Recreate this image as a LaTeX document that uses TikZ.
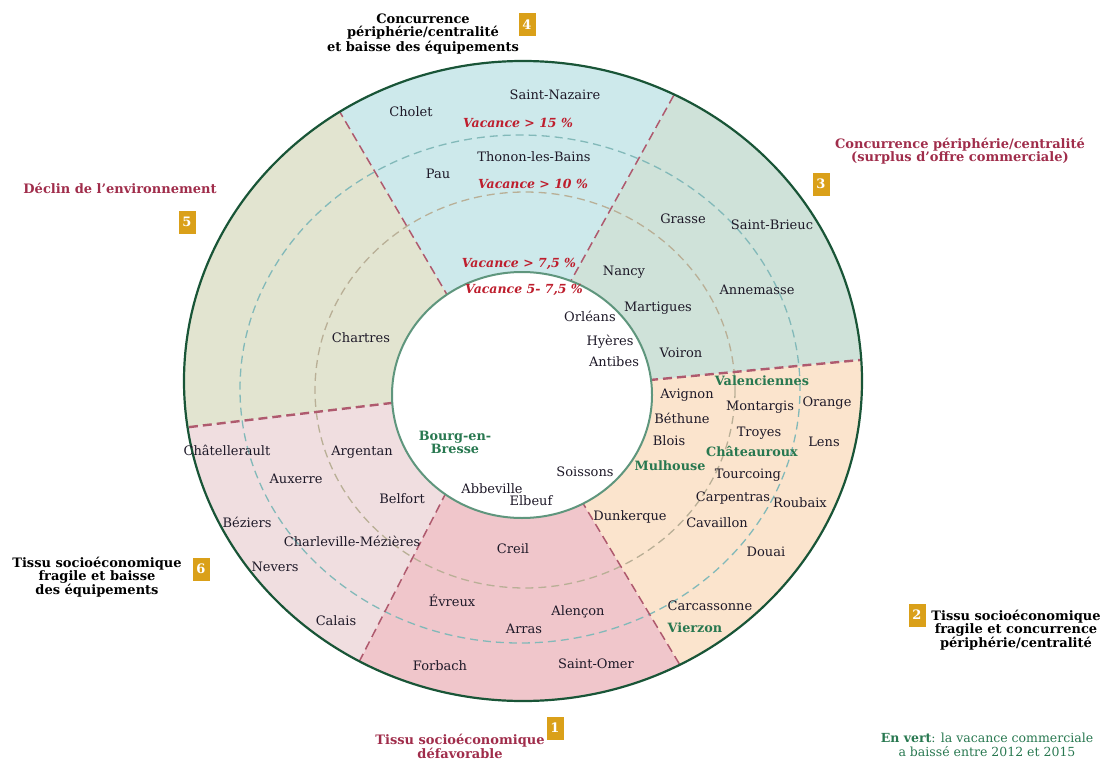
\documentclass[tikz,border=0pt]{standalone}
\usepackage{fontspec}
\setmainfont{DejaVu Serif}
\definecolor{sA}{RGB}{240,198,203}
\definecolor{sB}{RGB}{251,228,205}
\definecolor{sC}{RGB}{207,226,217}
\definecolor{sD}{RGB}{205,233,235}
\definecolor{sE}{RGB}{226,228,208}
\definecolor{sF}{RGB}{240,222,224}
\definecolor{citycol}{RGB}{30,25,40}
\definecolor{grn}{RGB}{40,120,80}
\definecolor{vacred}{RGB}{190,30,45}
\definecolor{rose}{RGB}{160,45,75}
\definecolor{gold}{RGB}{218,160,25}
\definecolor{outercol}{RGB}{25,85,55}
\definecolor{innercol}{RGB}{95,150,125}
\definecolor{beigering}{RGB}{185,175,150}
\definecolor{tealring}{RGB}{130,185,185}
\definecolor{segcol}{RGB}{175,90,110}
\begin{document}
\begin{tikzpicture}[x=1pt,y=-1pt,
  city/.style={font=\fontsize{13}{13.5}\selectfont, text=citycol, inner sep=0pt, text height=9pt, text depth=2.5pt},
  gcity/.style={city, font=\fontsize{12.8}{13}\selectfont\bfseries, text=grn, align=center},
  vac/.style={city, font=\fontsize{12.5}{13}\selectfont\bfseries\itshape, text=vacred},
  head/.style={font=\fontsize{13}{13}\selectfont\bfseries, align=center, inner sep=0pt},
  numbox/.style={fill=gold, text=white, font=\fontsize{13}{13}\selectfont\bfseries, minimum width=17pt, minimum height=23pt, inner sep=0pt},
  seg/.style={draw=segcol, dash pattern=on 9pt off 5pt, line width=1.5pt},
  segthick/.style={seg, line width=2.4pt},
  ringdash/.style={dash pattern=on 8pt off 5pt, line width=1.3pt},
]
\useasboundingbox (0,0) rectangle (1106,760);
\coordinate (C) at (522,395);
\begin{scope}
\clip (523,381) ellipse [x radius=339pt, y radius=320pt];
\fill[sA] (C) -- (468,450) -- (324,730) -- (719,730) -- (551,450) -- cycle;
\fill[sB] (C) -- (551,450) -- (719,730) -- (1000,730) -- (1000,350) -- (965,350) -- (545,390) -- cycle;
\fill[sC] (C) -- (545,390) -- (965,350) -- (965,0) -- (710,0) -- (710,30) -- (529.5,355.5) -- cycle;
\fill[sD] (C) -- (529.5,355.5) -- (710,30) -- (710,0) -- (317,0) -- (317,73) -- (490.5,369) -- cycle;
\fill[sE] (C) -- (490.5,369) -- (317,73) -- (0,73) -- (0,440) -- (81,440) -- (497,390.5) -- cycle;
\fill[sF] (C) -- (497,390.5) -- (81,440) -- (81,730) -- (324,730) -- (468,450) -- cycle;
\draw[ringdash, draw=beigering] (525,390) ellipse [x radius=210pt, y radius=198pt];
\draw[ringdash, draw=tealring] (520,389) ellipse [x radius=280pt, y radius=254pt];
\coordinate (l1a) at (504,380); \coordinate (l1b) at (324,730);
\coordinate (l2a) at (509,380); \coordinate (l2b) at (719,730);
\coordinate (l3a) at (440,400); \coordinate (l3b) at (965,350);
\coordinate (l4a) at (486,434); \coordinate (l4b) at (710,30);
\coordinate (l5a) at (534,443); \coordinate (l5b) at (317,73);
\coordinate (l6a) at (601,378); \coordinate (l6b) at (81,440);
\draw[seg] (l1a) -- (l1b);
\draw[seg] (l2a) -- (l2b);
\draw[segthick] (l3a) -- (l3b);
\draw[seg] (l4a) -- (l4b);
\draw[seg] (l5a) -- (l5b);
\draw[segthick] (l6a) -- (l6b);
\end{scope}
\fill[white] (522,395) ellipse [x radius=130pt, y radius=123pt];
\draw[innercol, line width=2pt] (522,395) ellipse [x radius=130pt, y radius=123pt];
\draw[outercol, line width=2.2pt] (523,381) ellipse [x radius=339pt, y radius=320pt];

% headings
\node[head] (h4) at (423,34) {Concurrence\\périphérie/centralité\\et baisse des équipements};
\node[numbox] (n4) at (527,25) {4};
\node[head, text=rose] (h3) at (960,151) {Concurrence périphérie/centralité\\(surplus d’offre commerciale)};
\node[numbox] (n3) at (821,184) {3};
\node[head, text=rose] (h5) at (120,188) {Déclin de l’environnement};
\node[numbox] (n5) at (187,222) {5};
\node[head] (h6) at (97,577) {Tissu socioéconomique\\fragile et baisse\\des équipements};
\node[numbox] (n6) at (201,569) {6};
\node[head] (h2) at (1016,630) {Tissu socioéconomique\\fragile et concurrence\\périphérie/centralité};
\node[numbox] (n2) at (917,615) {2};
\node[head, text=rose] (h1) at (460,746) {Tissu socioéconomique\\défavorable};
\node[numbox] (n1) at (555,728) {1};
\node[head, font=\fontsize{12.5}{14}\selectfont, text=grn] (leg) at (987,745) {\textbf{En vert}: la vacance commerciale\\a baissé entre 2012 et 2015};

% sector 4
\node[city] (cholet) at (411,113) {Cholet};
\node[city] (snazaire) at (555,96) {Saint-Nazaire};
\node[vac] (v15) at (518,124) {Vacance > 15 \%};
\node[city] (thonon) at (534,158) {Thonon-les-Bains};
\node[city] (pau) at (438,175) {Pau};
\node[vac] (v10) at (533,185) {Vacance > 10 \%};
\node[vac] (v75) at (519,264) {Vacance > 7,5 \%};
\node[vac] (v5) at (524,290) {Vacance 5- 7,5 \%};
% inner
\node[city] (orleans) at (590,318) {Orléans};
\node[city] (hyeres) at (610,342) {Hyères};
\node[city] (antibes) at (614,363) {Antibes};
\node[gcity] (bourg) at (455,450) {Bourg-en-\\Bresse};
\node[city] (soissons) at (585,473) {Soissons};
\node[city] (abbeville) at (492,490) {Abbeville};
\node[city] (elbeuf) at (531,502) {Elbeuf};
% sector 3
\node[city] (grasse) at (683,220) {Grasse};
\node[city] (sbrieuc) at (772,226) {Saint-Brieuc};
\node[city] (nancy) at (624,272) {Nancy};
\node[city] (annemasse) at (757,291) {Annemasse};
\node[city] (martigues) at (658,308) {Martigues};
\node[city] (voiron) at (681,354) {Voiron};
% sector 2
\node[gcity] (valenc) at (762,382) {Valenciennes};
\node[city] (avignon) at (687,395) {Avignon};
\node[city] (montargis) at (760,407) {Montargis};
\node[city] (orange) at (827,403) {Orange};
\node[city] (bethune) at (682,420) {Béthune};
\node[city] (troyes) at (759,433) {Troyes};
\node[city] (blois) at (669,442) {Blois};
\node[city] (lens) at (824,443) {Lens};
\node[gcity] (chateaur) at (752,453) {Châteauroux};
\node[gcity] (mulhouse) at (670,467) {Mulhouse};
\node[city] (tourcoing) at (748,475) {Tourcoing};
\node[city] (carpentras) at (733,498) {Carpentras};
\node[city] (roubaix) at (800,504) {Roubaix};
\node[city] (dunkerque) at (630,517) {Dunkerque};
\node[city] (cavaillon) at (717,524) {Cavaillon};
\node[city] (douai) at (766,553) {Douai};
\node[city] (carcassonne) at (710,607) {Carcassonne};
\node[gcity] (vierzon) at (695,629) {Vierzon};
% sector 1
\node[city] (creil) at (513,550) {Creil};
\node[city] (evreux) at (452,603) {Évreux};
\node[city] (alencon) at (578,612) {Alençon};
\node[city] (arras) at (524,630) {Arras};
\node[city] (forbach) at (440,667) {Forbach};
\node[city] (somer) at (596,665) {Saint-Omer};
% sector 6
\node[city] (chatell) at (227,452) {Châtellerault};
\node[city] (argentan) at (362,452) {Argentan};
\node[city] (auxerre) at (296,480) {Auxerre};
\node[city] (belfort) at (402,500) {Belfort};
\node[city] (beziers) at (247,524) {Béziers};
\node[city] (charlev) at (352,543) {Charleville-Mézières};
\node[city] (nevers) at (275,568) {Nevers};
\node[city] (calais) at (336,622) {Calais};
% sector 5
\node[city] (chartres) at (361,339) {Chartres};
\end{tikzpicture}
\end{document}
